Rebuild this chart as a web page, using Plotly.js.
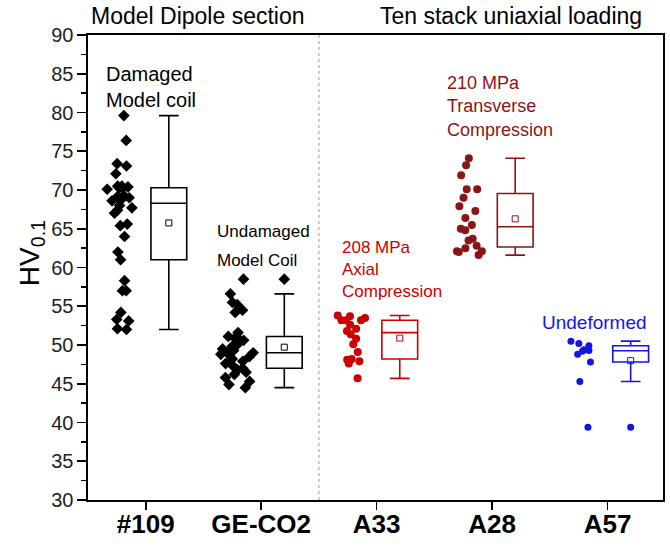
<!DOCTYPE html>
<html><head><meta charset="utf-8">
<script src="https://cdn.plot.ly/plotly-3.0.1.min.js"></script>
<style>html,body{margin:0;padding:0;background:#fff}#chart{width:670px;height:547px}</style>
</head><body><div id="chart"></div>
<script>
const categories = ['#109', 'GE-CO2', 'A33', 'A28', 'A57'];
const hv109 = [79.6, 76.4, 73.4, 73.1, 72.1, 70.5, 70.3, 70.5, 70.4, 70.2, 70.1, 69.2, 68.9, 69.0, 69.2, 68.6, 68.9,
  68.0, 67.7, 67.4, 67.0, 65.4, 65.6, 64.0, 62.0, 61.0, 58.3, 57.0, 57.0, 54.2, 53.3, 53.1, 52.1, 52.0];
const hvGECO2 = [58.5, 56.6, 55.5, 55.2, 54.5, 54.2, 51.6, 51.1, 50.9, 50.7, 50.6, 50.1, 49.8, 49.5, 49.3, 49.0,
  48.9, 48.8, 48.5, 48.2, 47.9, 47.6, 47.3, 47.0, 46.8, 46.5, 46.2, 45.8, 45.3, 44.9, 44.5];
const hvA33 = [53.7, 53.8, 53.2, 52.6, 53.2, 53.5, 53.2, 52.1, 51.8, 51.4, 50.8, 50.1, 49.1, 48.2, 47.9, 48.1, 47.6, 45.7];
const hvA28 = [74.1, 73.2, 71.9, 70.1, 70.1, 69.0, 67.9, 67.3, 66.4, 65.5, 65.0, 64.8, 63.7, 63.5, 62.8, 62.5,
  62.0, 62.1, 62.1, 61.6];
const hvA57 = [50.5, 50.2, 49.9, 49.4, 49.2, 49.3, 48.8, 47.8, 45.3, 39.4];

const groupValues = [hv109, hvGECO2, hvA33, hvA28, hvA57];
const groupColors = ['#000000', '#000000', '#cc0000', '#8b1515', '#1414e6'];
const groupSymbols = ['diamond', 'diamond', 'circle', 'circle', 'circle'];
const groupSizes = [9, 9, 8, 8, 7];

const FONT = 'Liberation Sans, Arial, Helvetica, sans-serif';
const traces = [];
groupValues.forEach((vals, i) => {
  const c = groupColors[i];
  const mk = {symbol: groupSymbols[i], size: groupSizes[i], color: c, line: {width: 0}};
  // jittered raw data points (box itself hidden)
  traces.push({
    type: 'box', y: vals, x0: i - 0.2, width: 0.32,
    boxpoints: 'all', jitter: 1, pointpos: 0,
    marker: mk, line: {width: 0, color: 'rgba(0,0,0,0)'},
    fillcolor: 'rgba(0,0,0,0)', whiskerwidth: 0, showlegend: false, hoverinfo: 'y'
  });
  // box plot
  traces.push({
    type: 'box', y: vals, x0: i + 0.2, width: 0.31,
    boxpoints: 'outliers', jitter: 0, pointpos: 0, quartilemethod: 'exclusive',
    marker: mk, line: {width: 1.6, color: c},
    fillcolor: 'rgba(255,255,255,0)', whiskerwidth: 0.55, showlegend: false
  });
  // mean marker
  const mean = vals.reduce((a, b) => a + b, 0) / vals.length;
  traces.push({
    type: 'scatter', mode: 'markers', x: [i + 0.2], y: [mean],
    marker: {symbol: 'square-open', size: 6, color: c, line: {width: 1, color: c}},
    showlegend: false, hoverinfo: 'y'
  });
});

const ann = (x, y, text, color, size, extra) => Object.assign({
  xref: 'x', yref: 'y', x: x, y: y, text: text, showarrow: false,
  xanchor: 'left', yanchor: 'middle', align: 'left',
  font: {family: FONT, size: size, color: color}
}, extra || {});

const layout = {
  width: 670, height: 547,
  margin: {l: 88, r: 7, t: 35, b: 47},
  paper_bgcolor: '#ffffff', plot_bgcolor: '#ffffff',
  boxmode: 'overlay', showlegend: false,
  font: {family: FONT, color: '#000'},
  xaxis: {
    type: 'linear', range: [-0.5, 4.48],
    tickmode: 'array', tickvals: categories.map((_, i) => i), ticktext: categories,
    ticks: 'outside', ticklen: 8, tickwidth: 1.6, tickcolor: '#000',
    ticklabelstandoff: -8,
    showline: true, linewidth: 1.6, linecolor: '#000', mirror: true,
    showgrid: false, zeroline: false,
    tickfont: {family: FONT, size: 26, color: '#000', weight: 'bold'}
  },
  yaxis: {
    range: [30, 90], tick0: 30, dtick: 5,
    ticks: 'outside', ticklen: 9, tickwidth: 1.6, tickcolor: '#000',
    minor: {dtick: 2.5, ticks: 'outside', ticklen: 5, tickwidth: 1.3, tickcolor: '#000', showgrid: false},
    showline: true, linewidth: 1.6, linecolor: '#000', mirror: true,
    showgrid: false, zeroline: false,
    tickfont: {family: FONT, size: 20, color: '#222'}
  },
  shapes: [{
    type: 'line', xref: 'x', yref: 'paper', x0: 1.5, x1: 1.5, y0: 0, y1: 1,
    line: {color: '#999', width: 1, dash: 'dot'}
  }],
  annotations: [
    {xref: 'paper', yref: 'paper', x: -0.099, y: 0.531, text: 'HV<sub>0.1</sub>', showarrow: false,
     textangle: -90, xanchor: 'center', yanchor: 'middle', font: {family: FONT, size: 28, color: '#000'}},
    {xref: 'x', yref: 'paper', x: 0.45, y: 1.041, text: 'Model Dipole section', showarrow: false,
     xanchor: 'center', yanchor: 'middle', font: {family: FONT, size: 23, color: '#000'}},
    {xref: 'x', yref: 'paper', x: 3.164, y: 1.041, text: 'Ten stack uniaxial loading', showarrow: false,
     xanchor: 'center', yanchor: 'middle', font: {family: FONT, size: 23, color: '#000'}},
    ann(-0.364, 83.25, 'Damaged<br>Model coil', '#000', 20),
    ann(0.598, 64.6, 'Undamaged', '#000', 17),
    ann(0.598, 60.9, 'Model Coil', '#000', 17),
    ann(1.683, 59.7, '208 MPa<br>Axial<br>Compression', '#cc0000', 17),
    ann(2.593, 80.8, '210 MPa<br>Transverse<br>Compression', '#8b1515', 18),
    ann(3.417, 52.9, 'Undeformed', '#1414e6', 19)
  ]
};

Plotly.newPlot('chart', traces, layout, {staticPlot: true, displayModeBar: false});
</script>
</body></html>
